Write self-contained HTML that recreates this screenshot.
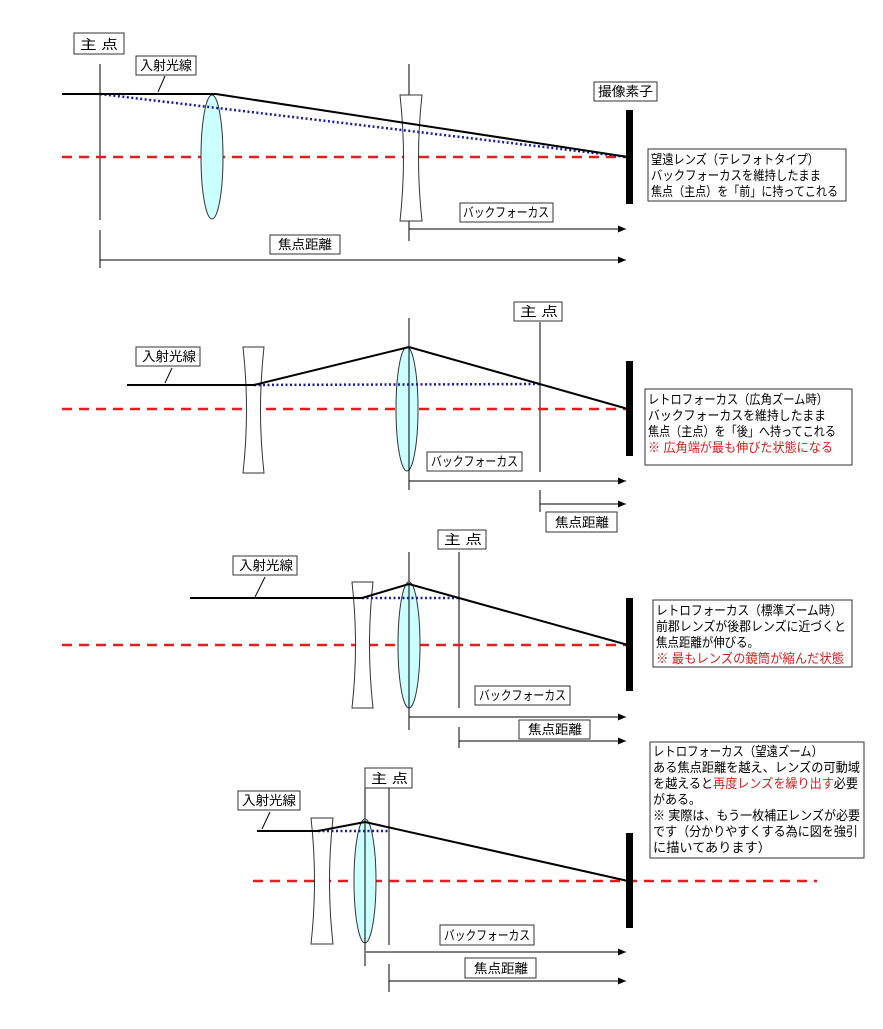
<!DOCTYPE html>
<html><head><meta charset="utf-8"><style>
html,body{margin:0;padding:0;background:#fff;}
svg text{font-family:"Liberation Sans","Noto Sans CJK JP",sans-serif;font-size:13px;fill:#000;}
</style></head><body>
<svg width="883" height="1024" viewBox="0 0 883 1024" xmlns="http://www.w3.org/2000/svg">
<defs>
<marker id="ah" markerWidth="8" markerHeight="8" refX="8" refY="4" orient="auto" markerUnits="userSpaceOnUse"><path d="M0,0.5 L8,4 L0,7.5 Z" fill="#000"/></marker>
</defs>
<g stroke="#000" fill="none" stroke-width="1">
<line x1="100" y1="64" x2="100" y2="220"/><line x1="100" y1="230" x2="100" y2="268"/>
<line x1="409" y1="64" x2="409" y2="241"/>
<line x1="165" y1="76" x2="158" y2="92"/>
<line x1="409" y1="229" x2="626" y2="229" marker-end="url(#ah)"/>
<line x1="100" y1="260" x2="626" y2="260" marker-end="url(#ah)"/>
<line x1="540" y1="322" x2="540" y2="472"/><line x1="540" y1="490" x2="540" y2="512"/>
<line x1="409" y1="318" x2="409" y2="490"/>
<line x1="172" y1="368" x2="165" y2="383"/>
<line x1="409" y1="481" x2="626" y2="481" marker-end="url(#ah)"/>
<line x1="540" y1="504" x2="626" y2="504" marker-end="url(#ah)"/>
<line x1="459" y1="552" x2="459" y2="708"/><line x1="459" y1="727" x2="459" y2="748"/>
<line x1="409" y1="552" x2="409" y2="730"/>
<line x1="265" y1="577" x2="255" y2="597"/>
<line x1="409" y1="717" x2="626" y2="717" marker-end="url(#ah)"/>
<line x1="459" y1="741" x2="626" y2="741" marker-end="url(#ah)"/>
<line x1="389" y1="788" x2="389" y2="945"/><line x1="389" y1="964" x2="389" y2="992"/>
<line x1="365" y1="768" x2="365" y2="966"/>
<line x1="270" y1="812" x2="262" y2="829"/>
<line x1="366" y1="952" x2="626" y2="952" marker-end="url(#ah)"/>
<line x1="389" y1="981" x2="626" y2="981" marker-end="url(#ah)"/>
</g>

<g stroke="#e02020" stroke-width="2.5" stroke-dasharray="10,7" fill="none">
<line x1="62" y1="157" x2="628" y2="157"/>
<line x1="62" y1="409" x2="628" y2="409"/>
<line x1="62" y1="645" x2="628" y2="645"/>
<line x1="253" y1="881" x2="817" y2="881"/>
</g>

<g stroke="#333" stroke-width="1">
<ellipse cx="212" cy="157" rx="11" ry="62" fill="#ccffff"/>
<path d="M400,95 L422,95 Q415,158 422,221 L400,221 Q407,158 400,95 Z" fill="#fff"/>
<path d="M243,347 L264,347 Q257,410 264,473 L243,473 Q250,410 243,347 Z" fill="#fff"/>
<ellipse cx="407" cy="409" rx="11" ry="62" fill="#ccffff"/>
<path d="M352,582 L373,582 Q366,645 373,708 L352,708 Q359,645 352,582 Z" fill="#fff"/>
<ellipse cx="409" cy="645" rx="11" ry="63" fill="#ccffff"/>
<path d="M311,818 L333,818 Q326,881 333,944 L311,944 Q318,881 311,818 Z" fill="#fff"/>
<ellipse cx="365" cy="881" rx="11" ry="62" fill="#ccffff"/>
</g>
<g stroke="#000" stroke-width="1">
<line x1="409" y1="347" x2="409" y2="471"/>
<line x1="409" y1="584" x2="409" y2="708"/>
<line x1="365" y1="820" x2="365" y2="943"/>
</g>

<g stroke="#1a1aa8" stroke-width="2.5" stroke-dasharray="2,2.5" fill="none">
<line x1="100" y1="94" x2="628" y2="157"/>
<line x1="254" y1="385" x2="540" y2="384"/>
<line x1="362" y1="598" x2="459" y2="598"/>
<line x1="318" y1="831" x2="390" y2="831"/>
</g>

<g stroke="#000" stroke-width="2" fill="none">
<polyline points="62,94 216,94 628,157"/>
<polyline points="127,385 254,385 409,347 628,409"/>
<polyline points="190,598 362,598 409,584 459,598 628,645"/>
<polyline points="257,831 318,831 365,822 628,881"/>
</g>

<g fill="#000">
<rect x="626" y="110" width="7" height="94"/>
<rect x="626" y="361" width="7" height="95"/>
<rect x="626" y="598" width="7" height="93"/>
<rect x="626" y="833" width="7" height="95"/>
</g>

<g stroke="#333" stroke-width="1" fill="#fff">
<rect x="74" y="33" width="50" height="21"/>
<rect x="136" y="56" width="60" height="19"/>
<rect x="594" y="82" width="63" height="19"/>
<rect x="648" y="149" width="198" height="52"/>
<rect x="460" y="203" width="93" height="19"/>
<rect x="270" y="235" width="70" height="19"/>
<rect x="514" y="302" width="48" height="19"/>
<rect x="136" y="347" width="64" height="19"/>
<rect x="645" y="389" width="207" height="76"/>
<rect x="427" y="452" width="95" height="19"/>
<rect x="546" y="512" width="71" height="20"/>
<rect x="438" y="530" width="48" height="19"/>
<rect x="233" y="556" width="64" height="19"/>
<rect x="653" y="600" width="199" height="67"/>
<rect x="475" y="686" width="95" height="19"/>
<rect x="519" y="720" width="71" height="19"/>
<rect x="365" y="768" width="47" height="20"/>
<rect x="238" y="791" width="62" height="19"/>
<rect x="650" y="742" width="214" height="116"/>
<rect x="440" y="925" width="94" height="20"/>
<rect x="465" y="958" width="71" height="20"/>
</g>

<g>
<text x="80" y="49" textLength="38" lengthAdjust="spacingAndGlyphs">主 点</text>
<text x="140" y="70" textLength="52" lengthAdjust="spacingAndGlyphs">入射光線</text>
<text x="598" y="96" textLength="55" lengthAdjust="spacingAndGlyphs">撮像素子</text>
<text x="651" y="164" textLength="168" lengthAdjust="spacingAndGlyphs">望遠レンズ（テレフォトタイプ）</text>
<text x="651" y="180" textLength="170" lengthAdjust="spacingAndGlyphs">バックフォーカスを維持したまま</text>
<text x="651" y="196" textLength="187" lengthAdjust="spacingAndGlyphs">焦点（主点）を「前」に持ってこれる</text>
<text x="463" y="217" textLength="86" lengthAdjust="spacingAndGlyphs">バックフォーカス</text>
<text x="278" y="249" textLength="54" lengthAdjust="spacingAndGlyphs">焦点距離</text>

<text x="520" y="316" textLength="38" lengthAdjust="spacingAndGlyphs">主 点</text>
<text x="142" y="361" textLength="54" lengthAdjust="spacingAndGlyphs">入射光線</text>
<text x="648" y="404" textLength="180" lengthAdjust="spacingAndGlyphs">レトロフォーカス（広角ズーム時）</text>
<text x="648" y="420" textLength="178" lengthAdjust="spacingAndGlyphs">バックフォーカスを維持したまま</text>
<text x="648" y="436" textLength="188" lengthAdjust="spacingAndGlyphs">焦点（主点）を「後」へ持ってこれる</text>
<text x="648" y="452" textLength="185" lengthAdjust="spacingAndGlyphs" style="fill:#d02020">※ 広角端が最も伸びた状態になる</text>
<text x="431" y="466" textLength="87" lengthAdjust="spacingAndGlyphs">バックフォーカス</text>
<text x="555" y="527" textLength="54" lengthAdjust="spacingAndGlyphs">焦点距離</text>

<text x="444" y="544" textLength="38" lengthAdjust="spacingAndGlyphs">主 点</text>
<text x="239" y="570" textLength="54" lengthAdjust="spacingAndGlyphs">入射光線</text>
<text x="656" y="615" textLength="186" lengthAdjust="spacingAndGlyphs">レトロフォーカス（標準ズーム時）</text>
<text x="656" y="631" textLength="190" lengthAdjust="spacingAndGlyphs">前郡レンズが後郡レンズに近づくと</text>
<text x="656" y="647" textLength="103" lengthAdjust="spacingAndGlyphs">焦点距離が伸びる。</text>
<text x="656" y="663" textLength="188" lengthAdjust="spacingAndGlyphs" style="fill:#d02020">※ 最もレンズの鏡筒が縮んだ状態</text>
<text x="479" y="700" textLength="87" lengthAdjust="spacingAndGlyphs">バックフォーカス</text>
<text x="528" y="734" textLength="54" lengthAdjust="spacingAndGlyphs">焦点距離</text>

<text x="371" y="783" textLength="37" lengthAdjust="spacingAndGlyphs">主 点</text>
<text x="242" y="805" textLength="54" lengthAdjust="spacingAndGlyphs">入射光線</text>
<text x="653" y="756" textLength="170" lengthAdjust="spacingAndGlyphs">レトロフォーカス（望遠ズーム）</text>
<text x="653" y="772" textLength="207" lengthAdjust="spacingAndGlyphs">ある焦点距離を越え、レンズの可動域</text>
<text x="653" y="788" textLength="205" lengthAdjust="spacingAndGlyphs">を越えると<tspan style="fill:#d02020">再度レンズを繰り出す</tspan>必要</text>
<text x="653" y="804" textLength="48" lengthAdjust="spacingAndGlyphs">がある。</text>
<text x="653" y="820" textLength="207" lengthAdjust="spacingAndGlyphs">※ 実際は、もう一枚補正レンズが必要</text>
<text x="653" y="836" textLength="205" lengthAdjust="spacingAndGlyphs">です（分かりやすくする為に図を強引</text>
<text x="653" y="852" textLength="118" lengthAdjust="spacingAndGlyphs">に描いてあります）</text>
<text x="444" y="940" textLength="86" lengthAdjust="spacingAndGlyphs">バックフォーカス</text>
<text x="474" y="973" textLength="54" lengthAdjust="spacingAndGlyphs">焦点距離</text>
</g>
</svg>
</body></html>
